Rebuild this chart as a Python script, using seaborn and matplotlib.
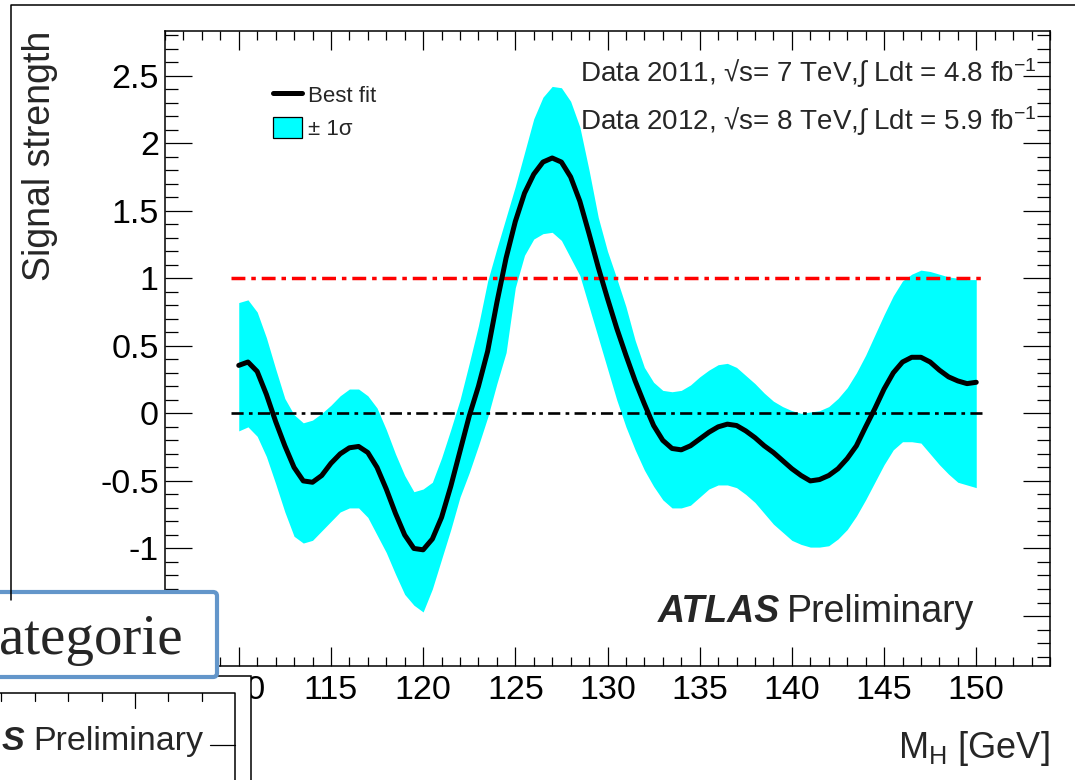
import matplotlib
matplotlib.use("Agg")
import matplotlib.pyplot as plt
import numpy as np
import pandas as pd
import seaborn as sns
from matplotlib.lines import Line2D
from matplotlib.patches import Patch, Rectangle, FancyBboxPatch
from matplotlib.ticker import MultipleLocator, FuncFormatter

# Higgs mass hypotheses scanned (GeV)
mass_gev = [110.0, 110.5, 111.0, 111.5, 112.0, 112.5, 113.0, 113.5, 114.0, 114.5,
            115.0, 115.5, 116.0, 116.5, 117.0, 117.5, 118.0, 118.5, 119.0, 119.5,
            120.0, 120.5, 121.0, 121.5, 122.0, 122.5, 123.0, 123.5, 124.0, 124.5,
            125.0, 125.5, 126.0, 126.5, 127.0, 127.5, 128.0, 128.5, 129.0, 129.5,
            130.0, 130.5, 131.0, 131.5, 132.0, 132.5, 133.0, 133.5, 134.0, 134.5,
            135.0, 135.5, 136.0, 136.5, 137.0, 137.5, 138.0, 138.5, 139.0, 139.5,
            140.0, 140.5, 141.0, 141.5, 142.0, 142.5, 143.0, 143.5, 144.0, 144.5,
            145.0, 145.5, 146.0, 146.5, 147.0, 147.5, 148.0, 148.5, 149.0, 149.5,
            150.0]

# best-fit signal strength
best_fit = [0.355, 0.38, 0.31, 0.14, -0.06, -0.24, -0.40, -0.50, -0.51, -0.46,
            -0.37, -0.30, -0.255, -0.245, -0.29, -0.40, -0.56, -0.74, -0.90, -1.00,
            -1.01, -0.93, -0.77, -0.54, -0.28, -0.02, 0.20, 0.46, 0.82, 1.15,
            1.42, 1.63, 1.77, 1.86, 1.89, 1.86, 1.75, 1.57, 1.33, 1.08,
            0.85, 0.63, 0.43, 0.24, 0.07, -0.09, -0.20, -0.26, -0.27, -0.24,
            -0.19, -0.14, -0.10, -0.08, -0.09, -0.13, -0.18, -0.24, -0.29, -0.35,
            -0.41, -0.46, -0.50, -0.49, -0.46, -0.41, -0.335, -0.24, -0.10, 0.035,
            0.18, 0.30, 0.38, 0.415, 0.415, 0.38, 0.32, 0.27, 0.24, 0.22,
            0.23]

# +1 sigma edge
band_high = [0.82, 0.84, 0.75, 0.56, 0.33, 0.11, -0.01, -0.07, -0.05, 0.00,
             0.06, 0.13, 0.18, 0.18, 0.13, 0.04, -0.12, -0.30, -0.46, -0.58,
             -0.56, -0.51, -0.33, -0.12, 0.10, 0.37, 0.65, 0.98, 1.22, 1.45,
             1.68, 1.93, 2.18, 2.34, 2.42, 2.41, 2.31, 2.12, 1.80, 1.45,
             1.20, 1.00, 0.79, 0.54, 0.34, 0.23, 0.17, 0.16, 0.17, 0.21,
             0.27, 0.32, 0.36, 0.37, 0.34, 0.28, 0.22, 0.15, 0.09, 0.05,
             0.02, 0.00, 0.01, 0.02, 0.05, 0.11, 0.19, 0.30, 0.43, 0.58,
             0.73, 0.87, 0.98, 1.03, 1.06, 1.05, 1.03, 1.01, 1.00, 0.99,
             0.99]

# -1 sigma edge
band_low = [-0.13, -0.10, -0.17, -0.32, -0.52, -0.73, -0.91, -0.96, -0.94, -0.87,
            -0.80, -0.73, -0.70, -0.70, -0.77, -0.90, -1.03, -1.19, -1.34, -1.42,
            -1.47, -1.30, -1.08, -0.86, -0.62, -0.44, -0.24, -0.03, 0.22, 0.45,
            0.93, 1.17, 1.29, 1.33, 1.34, 1.28, 1.15, 1.02, 0.79, 0.56,
            0.33, 0.10, -0.10, -0.27, -0.42, -0.54, -0.64, -0.70, -0.70, -0.68,
            -0.62, -0.56, -0.53, -0.53, -0.55, -0.60, -0.66, -0.74, -0.82, -0.88,
            -0.94, -0.97, -0.99, -0.99, -0.98, -0.93, -0.86, -0.76, -0.64, -0.51,
            -0.38, -0.27, -0.21, -0.21, -0.22, -0.30, -0.38, -0.45, -0.51, -0.53,
            -0.55]

legend_labels = ["Best fit", "\u00b1 1\u03c3"]
lumi_lines = ["Data 2011, \u221as= 7 TeV,\u222b Ldt = 4.8 fb$^{\\mathregular{-1}}$",
              "Data 2012, \u221as= 8 TeV,\u222b Ldt = 5.9 fb$^{\\mathregular{-1}}$"]

df = pd.DataFrame({"mass": mass_gev, "mu": best_fit,
                   "lo": band_low, "hi": band_high})

sns.set_theme(style="ticks")
plt.rcParams["font.family"] = ["Liberation Sans", "DejaVu Sans"]
plt.rcParams["mathtext.fontset"] = "custom"
plt.rcParams["mathtext.rm"] = "Liberation Sans"
plt.rcParams["mathtext.it"] = "Liberation Sans:italic"
plt.rcParams["mathtext.bf"] = "Liberation Sans:bold"

W, H = 1075, 780
fig = plt.figure(figsize=(W / 100, H / 100), dpi=100, facecolor="white")
ax = fig.add_axes([165 / W, 1 - 666 / H, 885 / W, 635 / H])
ax.set_facecolor("white")

# +-1 sigma band, reference lines and best fit curve
ax.fill_between(df["mass"], df["lo"], df["hi"], color="#00FFFF", lw=0, zorder=1)
ax.hlines(1, 109.6, 150.3, color="#FF0000", lw=2.5,
          linestyle=(0, (4.0, 1.7, 1.3, 1.7)), zorder=2)
ax.hlines(0, 109.6, 150.3, color="black", lw=1.9,
          linestyle=(0, (4.6, 2.0, 1.4, 2.0)), zorder=2)
sns.lineplot(data=df, x="mass", y="mu", ax=ax, color="black", lw=3.6,
             estimator=None, sort=False, zorder=3,
             solid_joinstyle="round", solid_capstyle="round")

ax.set_xlim(106, 154)
ax.set_ylim(-1.87, 2.83)
ax.xaxis.set_major_locator(MultipleLocator(5))
ax.xaxis.set_minor_locator(MultipleLocator(1))
ax.yaxis.set_major_locator(MultipleLocator(0.5))
ax.yaxis.set_minor_locator(MultipleLocator(0.1))
# the lowest y label sits behind the caption box, so it is left blank
ax.yaxis.set_major_formatter(FuncFormatter(lambda v, p: "" if v < -1.2 else f"{v:g}"))
ax.xaxis.set_major_formatter(FuncFormatter(lambda v, p: f"{v:g}"))

ax.tick_params(axis="both", which="both", direction="in", top=True, right=True,
               width=0.9, colors="black", labelsize=24.5)
ax.tick_params(axis="x", which="major", length=13.7, pad=6.5)
ax.tick_params(axis="x", which="minor", length=6.5)
ax.tick_params(axis="y", which="major", length=19.4, pad=4.5)
ax.tick_params(axis="y", which="minor", length=9.4)
for s in ax.spines.values():
    s.set_visible(True)
    s.set_linewidth(1.1)
    s.set_color("black")

ax.set_ylabel("Signal strength", fontsize=27, loc="top")
ax.yaxis.set_label_coords(-0.121, 1.0)
ax.set_xlabel("M$_{\\mathregular{H}}$ [GeV]", fontsize=26, loc="right")
ax.xaxis.set_label_coords(1.0, -0.10)

handles = [Line2D([], [], color="black", lw=3.6),
           Patch(facecolor="#00FFFF", edgecolor="black", lw=0.9)]
ax.legend(handles, legend_labels, loc="upper left",
          bbox_to_anchor=((273 - 165) / 885, (666 - 84) / 635),
          frameon=False, fontsize=16, handlelength=1.32, handleheight=1.05,
          handletextpad=0.27, labelspacing=0.45, borderpad=0, borderaxespad=0)

ax.text(0.985, 0.92, lumi_lines[0], transform=ax.transAxes, ha="right",
        va="baseline", fontsize=20)
ax.text(0.985, 0.844, lumi_lines[1], transform=ax.transAxes, ha="right",
        va="baseline", fontsize=20)
ax.text(0.557, 0.069, "ATLAS", transform=ax.transAxes, fontsize=27,
        fontweight="bold", fontstyle="italic", va="baseline")
ax.text(0.703, 0.069, "Preliminary", transform=ax.transAxes, fontsize=27,
        va="baseline")

# page elements surrounding the plot (pixel coordinates)
ov = fig.add_axes([0, 0, 1, 1], zorder=10)
ov.set_xlim(0, W)
ov.set_ylim(H, 0)
ov.axis("off")

ov.plot([11, 11, W + 5], [600, 5, 5], color="black", lw=1.1, clip_on=False)

# neighbouring panel in the lower left corner
ov.add_patch(Rectangle((-10, 676), 261, 120, facecolor="white",
                       edgecolor="black", lw=1.1, clip_on=False))
ov.plot([-10, 235, 235], [693, 693, 800], color="black", lw=1.1, clip_on=False)
for tx in [1, 35, 68, 102, 168, 202]:
    ov.plot([tx, tx], [693, 701], color="black", lw=0.9)
ov.plot([135, 135], [693, 708], color="black", lw=0.9)
ov.plot([210, 235], [745, 745], color="black", lw=0.9)
ov.text(2, 750, "S", ha="left", va="baseline", fontsize=24.5,
        fontweight="bold", fontstyle="italic")
ov.text(33, 750, "Preliminary", ha="left", va="baseline", fontsize=24.5)

# caption box
ov.add_patch(FancyBboxPatch((-20, 592), 237, 85,
                            boxstyle="round,pad=0,rounding_size=4",
                            edgecolor="#6396CA", facecolor="white", lw=3,
                            clip_on=False))
ov.text(-1, 654, "ategorie", ha="left", va="baseline", fontsize=41,
        family=["Liberation Serif", "DejaVu Serif"])

fig.savefig("out.png", dpi=100, facecolor="white")
